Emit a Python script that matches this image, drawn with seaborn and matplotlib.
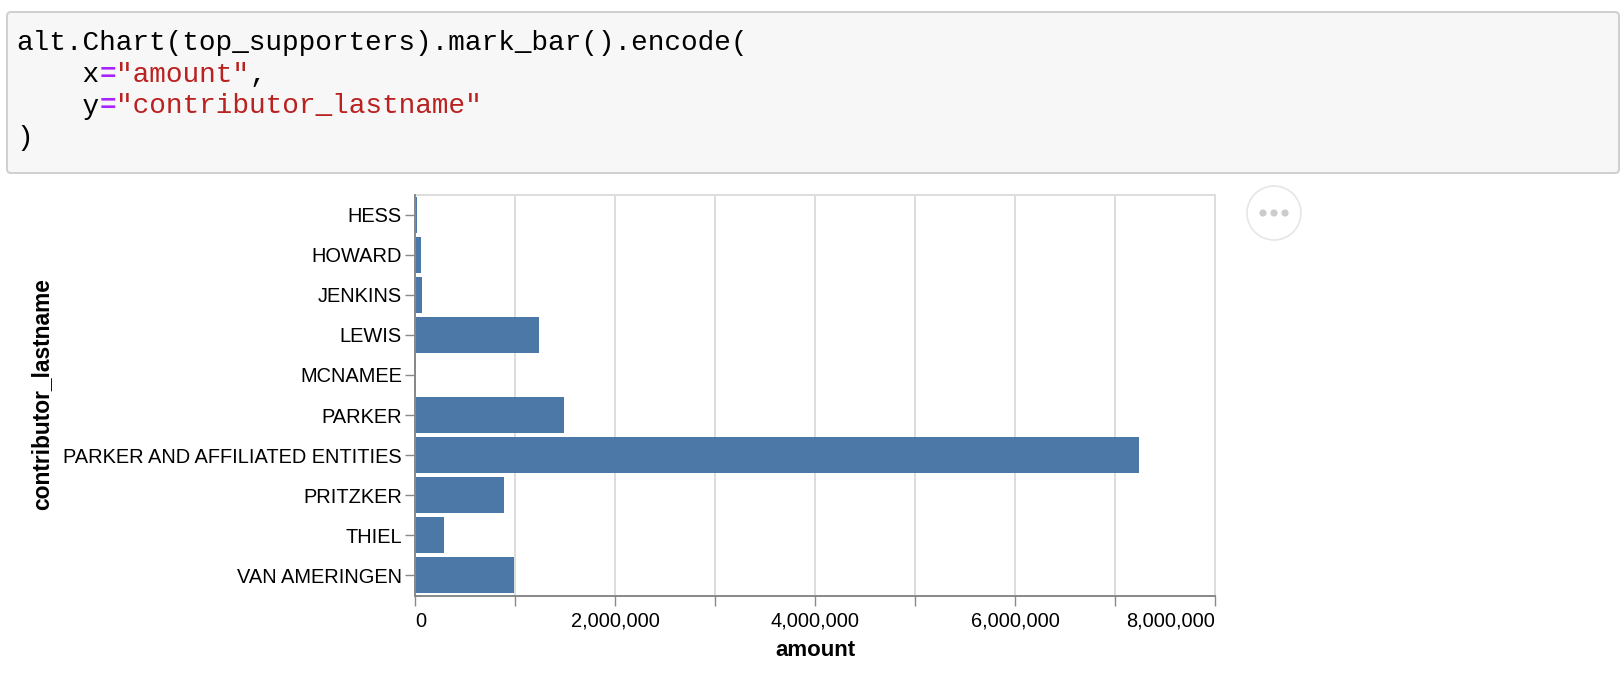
# libraries
import pandas as pd
import matplotlib
matplotlib.use("Agg")
import matplotlib.pyplot as plt
import matplotlib.patches as mpatches
import seaborn as sns

# data
names = ["HESS", "HOWARD", "JENKINS", "LEWIS", "MCNAMEE", "PARKER",
         "PARKER AND AFFILIATED ENTITIES", "PRITZKER", "THIEL", "VAN AMERINGEN"]
amounts = [20000, 57000, 67000, 1240000, 8000, 1490000,
           7240000, 890000, 290000, 990000]
x_ticks = [0, 1000000, 2000000, 3000000, 4000000, 5000000, 6000000, 7000000, 8000000]
x_tick_labels = ["0", "", "2,000,000", "", "4,000,000", "", "6,000,000", "", "8,000,000"]

# code cell shown above the chart: (text, kind) tokens per line
code_lines = [
    [("alt.Chart(top_supporters).mark_bar().encode(", "plain")],
    [("    x", "plain"), ("=", "op"), ('"amount"', "str"), (",", "plain")],
    [("    y", "plain"), ("=", "op"), ('"contributor_lastname"', "str")],
    [(")", "plain")],
]

df = pd.DataFrame({"contributor_lastname": names, "amount": amounts})

W, H = 1622, 698
plt.rcParams['font.family'] = ['Liberation Sans', 'DejaVu Sans']
fig = plt.figure(figsize=(W / 100, H / 100), dpi=100)
fig.patch.set_facecolor("white")

# code cell box
box = mpatches.FancyBboxPatch((7, H - 173), 1612, 161,
                              boxstyle="round,pad=0,rounding_size=4",
                              facecolor="#f7f7f7", edgecolor="#cfcfcf",
                              linewidth=1.4, transform=None)
fig.patches.append(box)

token_style = {
    "plain": dict(color="#000000", fontweight="normal"),
    "op": dict(color="#aa22ff", fontweight="bold"),
    "str": dict(color="#ba2121", fontweight="normal"),
}
char_w = 20 * 0.6 * 100 / 72
baselines = [50.5, 82, 113.5, 145]
for line, base in zip(code_lines, baselines):
    col = 0
    for text, kind in line:
        fig.text((16 + col * char_w) / W, 1 - base / H, text,
                 family="Liberation Mono", fontsize=20, va="baseline",
                 ha="left", **token_style[kind])
        col += len(text)

# chart
left, top, pw, ph = 415, 194.5, 800, 401
ax = fig.add_axes([left / W, 1 - (top + ph) / H, pw / W, ph / H])
sns.barplot(data=df, x="amount", y="contributor_lastname", color="#4c78a8",
            saturation=1, width=0.9, errorbar=None, linewidth=0, ax=ax, zorder=3)
ax.set_xlim(0, 8000000)
ax.set_ylim(len(names) - 0.5, -0.5)

ax.set_xticks(x_ticks, x_tick_labels)
ax.grid(axis="x", color="#dddddd", linewidth=1.4, zorder=0)
ax.set_axisbelow(True)
ax.tick_params(axis="both", colors="#888888", labelcolor="black",
               labelsize=14.4, length=7.2, width=1.0)
ax.tick_params(axis="x", pad=4.5)
ax.tick_params(axis="y", pad=2.2)
labels = ax.get_xticklabels()
labels[0].set_ha("left")
labels[-1].set_ha("right")

for side in ["top", "right"]:
    ax.spines[side].set_color("#dddddd")
    ax.spines[side].set_linewidth(1.4)
for side in ["left", "bottom"]:
    ax.spines[side].set_color("#888888")
    ax.spines[side].set_linewidth(1.4)
    ax.spines[side].set_zorder(4)

ax.set_xlabel("")
ax.set_ylabel("")
fig.text(815 / W, 1 - 650 / H, "amount", fontsize=16, fontweight="bold",
         ha="center", va="center")
fig.text(42 / W, 1 - 394 / H, "contributor_lastname", fontsize=16.4,
         fontweight="bold", ha="center", va="center", rotation=90)

# the "..." actions button
circ = mpatches.Circle((1274, H - 213), 27, facecolor="white",
                       edgecolor="#e6e6e6", linewidth=1.2, transform=None)
fig.patches.append(circ)
for dx in [-11, 0, 11]:
    fig.patches.append(mpatches.Circle((1274 + dx, H - 213), 3.6,
                                       facecolor="#cccccc", edgecolor="none",
                                       transform=None))

fig.savefig("out.png", dpi=100)
